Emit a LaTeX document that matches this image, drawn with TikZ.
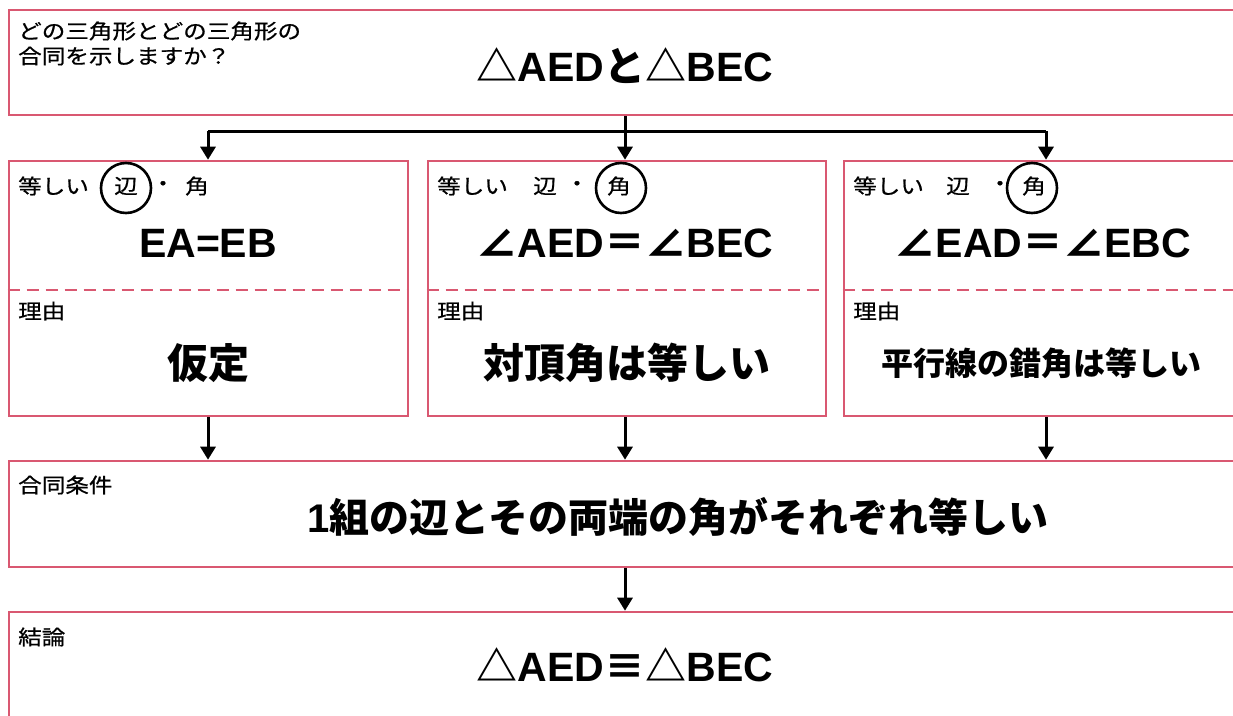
\documentclass[tikz,border=0pt]{standalone}
\usepackage{fontspec}
\setmainfont{Noto Sans CJK JP}
\newfontfamily\smalljp{Noto Sans CJK JP}[FakeBold=0.6]
\newfontfamily\lat{Liberation Sans}
\usetikzlibrary{arrows.meta}
\definecolor{pk}{RGB}{217,88,113}
\newcommand{\wide}[1]{\scalebox{1.15}[1]{#1}}
\newcommand{\latw}[1]{{\lat #1}}
\begin{document}
\begin{tikzpicture}[x=1pt,y=-1pt,
 box/.style={draw=pk,line width=2.6pt,rectangle,inner sep=0},
 big/.style={font=\bfseries\fontsize{41}{41}\selectfont, inner sep=0},
 mid/.style={font=\bfseries\fontsize{32}{32}\selectfont, inner sep=0},
 lab/.style={font=\smalljp\fontsize{20.5}{25}\selectfont, inner sep=0},
 conn/.style={line width=3pt, black},
 arr/.style={conn,-{Triangle[width=15pt,length=13pt]}},
 ring/.style={draw, circle, line width=2.6pt, minimum size=50pt, inner sep=0},
 dashline/.style={draw=pk, line width=2pt, dash pattern=on 12pt off 7pt}]
\useasboundingbox (0,0) rectangle (1233,715);
\clip (0,0) rectangle (1233,715);
\fill[white] (0,0) rectangle (1233,715);

% boxes
\node[box, minimum width=1251pt, minimum height=105pt] (top) at (634.5,62.5) {};
\node[box, minimum width=399pt, minimum height=255pt] (m1) at (208.5,288.5) {};
\node[box, minimum width=398pt, minimum height=255pt] (m2) at (627,288.5) {};
\node[box, minimum width=416pt, minimum height=255pt] (m3) at (1052,288.5) {};
\node[box, minimum width=1251pt, minimum height=106pt] (cond) at (634.5,514) {};
\node[box, minimum width=1251pt, minimum height=148pt] (conc) at (634.5,686) {};

% dashed separators
\draw[dashline] ([yshift=-1.5pt]m1.west) -- ([yshift=-1.5pt]m1.east);
\draw[dashline] ([yshift=-1.5pt]m2.west) -- ([yshift=-1.5pt]m2.east);
\draw[dashline] ([yshift=-1.5pt]m3.west) -- ([yshift=-1.5pt]m3.east);

% top texts
\node[lab, anchor=west] (q1) at (18,31) {\wide{どの三角形とどの三角形の}};
\node[lab, anchor=west] (q2) at (18,56) {\wide{合同を示しますか？}};
\node[big] (t) at (625,66) {△\latw{AED}と△\latw{BEC}};

% box 1
\node[lab, anchor=west] (h1) at (18,186) {\wide{等しい}};
\node[lab] (s1) at (126,186) {\wide{辺}};
\node[lab] (d1) at (163,186) {\wide{・}};
\node[lab] (a1) at (197,186) {\wide{角}};
\node[ring] (c1) at (126,188) {};
\node[big] (e1) at (208,243) {\latw{EA=EB}};
\node[lab, anchor=west] (r1) at (18,311) {\wide{理由}};
\node[big] (why1) at (208,363) {仮定};

% box 2
\node[lab, anchor=west] (h2) at (437,186) {\wide{等しい}};
\node[lab] (s2) at (545,186) {\wide{辺}};
\node[lab] (d2) at (577,186) {\wide{・}};
\node[lab] (a2) at (619,186) {\wide{角}};
\node[ring] (c2) at (621,188) {};
\node[big] (e2) at (625,243) {∠\latw{AED}＝∠\latw{BEC}};
\node[lab, anchor=west] (r2) at (437,311) {\wide{理由}};
\node[big] (why2) at (627,363) {対頂角は等しい};

% box 3
\node[lab, anchor=west] (h3) at (853,186) {\wide{等しい}};
\node[lab] (s3) at (958,186) {\wide{辺}};
\node[lab] (d3) at (1000,186) {\wide{・}};
\node[lab] (a3) at (1034,186) {\wide{角}};
\node[ring] (c3) at (1032,188) {};
\node[big] (e3) at (1043,243) {∠\latw{EAD}＝∠\latw{EBC}};
\node[lab, anchor=west] (r3) at (853,311) {\wide{理由}};
\node[mid] (why3) at (1041,363) {平行線の錯角は等しい};

% condition
\node[lab, anchor=west] (cl) at (18,485) {\wide{合同条件}};
\node[big, font=\bfseries\fontsize{40}{40}\selectfont] (ct) at (678,517) {\latw{1}組の辺とその両端の角がそれぞれ等しい};

% conclusion
\node[lab, anchor=west] (kl) at (18,637) {\wide{結論}};
\node[big] (kt) at (625,665) {△\latw{AED}≡△\latw{BEC}};

% connectors
\coordinate (jL) at (208,131);
\coordinate (jM) at (625,131);
\coordinate (jR) at (1046,131);
\draw[conn] (jL) -- (jR);
\draw[arr] (top.south -| jM) -- (jM |- m2.north);
\draw[arr] (jL) -- (jL |- m1.north);
\draw[arr] (jR) -- (jR |- m3.north);
\draw[arr] (m1.south -| jL) -- (cond.north -| jL);
\draw[arr] (m2.south -| jM) -- (cond.north -| jM);
\draw[arr] (m3.south -| jR) -- (cond.north -| jR);
\draw[arr] (cond.south -| jM) -- (conc.north -| jM);
\end{tikzpicture}
\end{document}
